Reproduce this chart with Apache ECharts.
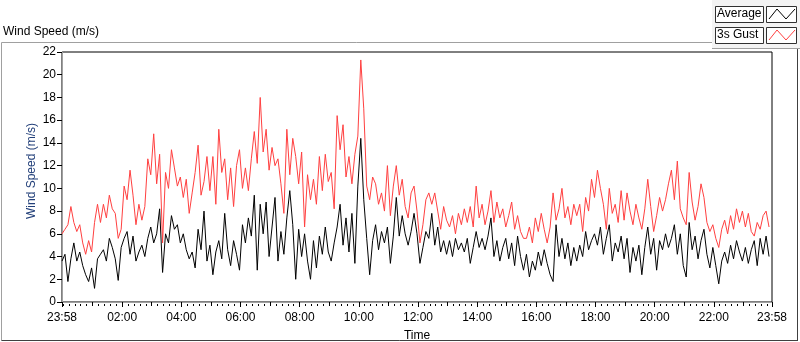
<!DOCTYPE html>
<html>

<head>
    <meta charset="utf-8">
    <title>Wind Speed</title>
    <script src="https://cdn.jsdelivr.net/npm/echarts@6/dist/echarts.min.js"></script>
</head>

<body style="margin:0;background:#fff;">
    <div id="main" style="width: 800px;height: 342px;"></div>
    <script type="text/javascript">

        // 数据: 从 23:58 开始, 每 6 分钟一个点
        var startOffset = 2;   // 23:58 -> 00:00 的分钟数
        var stepMin = 6;

        // 3s Gust (m/s)
        var gust = [
            6.0, 6.4, 6.8, 8.4, 7.0, 6.2, 6.8, 5.2, 4.2, 5.4,
            4.4, 7.0, 8.6, 7.0, 8.6, 7.4, 9.4, 8.2, 7.8, 5.6,
            6.4, 10.2, 9.0, 11.6, 9.4, 6.8, 8.6, 7.2, 8.4, 12.6,
            11.2, 14.8, 10.4, 13.0, 5.2, 11.4, 10.0, 13.4, 11.8, 10.2,
            11.0, 9.2, 10.8, 7.8, 9.6, 11.4, 13.8, 9.4, 10.6, 12.8,
            9.8, 12.8, 8.6, 15.2, 11.4, 12.6, 9.0, 11.8, 8.4, 12.0,
            13.4, 10.0, 11.8, 9.8, 12.6, 15.0, 12.2, 18.0, 13.2, 15.2,
            11.6, 13.6, 12.0, 12.6, 10.4, 7.8, 15.2, 11.2, 14.4,
            12.8, 10.4, 13.2, 6.6, 11.2, 9.0, 10.8, 8.6, 12.8, 9.8,
            13.0, 10.6, 11.4, 8.2, 16.4, 13.4, 15.6, 11.0, 12.8, 10.4,
            13.0, 14.6, 21.3, 17.0, 10.2, 9.0, 11.0, 10.4, 8.6, 9.6,
            8.0, 12.0, 7.6, 10.2, 12.0, 9.4, 10.8, 8.4, 7.4,
            9.6, 10.2, 8.0, 5.2, 6.8, 9.0, 9.6, 8.6, 9.6, 8.0,
            6.4, 8.4, 7.2, 6.6, 7.6, 6.0, 7.8, 6.8, 8.2, 7.0,
            8.4, 6.6, 10.2, 7.4, 8.6, 6.8, 8.0, 9.8, 7.0, 8.8,
            7.4, 8.2, 6.6, 7.6, 8.8, 6.4, 7.6, 6.2, 5.6,
            5.6, 6.6, 5.2, 7.4, 6.2, 7.8, 6.4, 5.2, 6.6, 9.6,
            7.2, 8.2, 10.0, 7.4, 8.4, 6.8, 8.6, 7.6, 8.6, 6.2,
            9.2, 8.0, 10.8, 9.2, 11.6, 10.0, 8.6, 6.4, 10.0, 7.8,
            8.6, 7.0, 9.8, 7.2, 9.6, 8.0, 6.8, 8.6, 7.4,
            6.4, 8.2, 10.8, 8.4, 6.2, 7.6, 9.2, 8.0, 9.0, 10.4,
            11.6, 9.0, 12.4, 8.2, 7.4, 6.8, 11.4, 8.8, 7.2, 8.4,
            10.4, 9.2, 7.0, 6.2, 6.8, 5.6, 4.8, 6.4, 7.2, 6.0,
            7.6, 6.4, 8.2, 7.0, 8.0, 6.6, 7.8, 6.2, 5.8, 7.0,
            6.4, 7.6, 8.0, 6.6
        ];

        // Average (m/s)
        var average = [
            3.6, 4.2, 1.8, 3.8, 5.2, 3.6, 4.4, 3.2, 2.4, 1.8,
            3.0, 1.2, 3.8, 4.2, 4.6, 3.6, 5.6, 4.8, 3.8, 1.9,
            4.8, 5.6, 6.2, 4.2, 5.8, 3.6, 4.4, 5.0, 4.0, 5.6,
            6.6, 5.2, 6.0, 8.2, 2.6, 6.0, 5.2, 7.6, 6.4, 6.8,
            5.2, 6.0, 4.6, 3.8, 4.4, 3.0, 6.4, 4.6, 8.0, 3.6,
            5.0, 2.4, 4.4, 5.4, 3.8, 7.8, 4.6, 3.2, 5.4, 4.2,
            2.8, 6.8, 5.2, 7.4, 5.8, 9.4, 2.8, 8.6, 6.0, 8.8,
            4.0, 6.6, 9.2, 3.6, 6.2, 4.2, 7.4, 9.8, 6.8,
            2.0, 6.4, 4.0, 6.0, 3.6, 2.0, 5.4, 3.0, 5.8, 4.2,
            6.6, 4.4, 3.6, 5.2, 6.6, 8.6, 5.0, 7.4, 4.4, 7.8,
            3.4, 10.2, 14.4, 9.0, 5.6, 2.4, 5.4, 6.8, 4.6, 6.2,
            5.2, 6.6, 3.4, 5.8, 9.2, 5.8, 7.6, 6.0, 5.0,
            6.2, 7.8, 6.0, 3.4, 4.8, 6.2, 5.6, 7.8, 5.0, 6.6,
            4.4, 5.4, 4.2, 5.4, 4.0, 5.6, 4.6, 5.2, 4.4, 5.6,
            3.4, 4.8, 6.2, 4.8, 5.6, 4.6, 5.8, 7.4, 4.0, 5.4,
            3.6, 4.8, 5.6, 3.8, 5.2, 3.2, 5.8, 4.0, 2.8,
            4.2, 2.2, 3.6, 2.8, 4.4, 3.2, 4.6, 3.4, 2.4, 1.8,
            6.8, 4.0, 5.6, 3.8, 5.2, 3.2, 4.8, 3.6, 5.0, 4.0,
            6.2, 4.6, 5.4, 6.0, 5.0, 6.6, 4.2, 5.6, 6.8, 3.6,
            5.2, 4.4, 5.8, 3.8, 5.6, 2.6, 4.8, 3.6, 5.0,
            2.4, 4.8, 6.6, 4.2, 5.6, 2.8, 5.4, 4.6, 6.0, 4.8,
            5.6, 6.8, 4.2, 6.0, 3.2, 2.2, 7.0, 4.6, 5.8, 3.8,
            5.4, 6.4, 4.2, 3.0, 4.8, 3.2, 1.6, 3.6, 4.4, 3.4,
            5.0, 3.8, 5.4, 4.4, 3.6, 4.8, 3.4, 4.6, 5.4, 3.2,
            5.6, 4.2, 5.8, 4.0
        ];

        // 时间轴刻度 (距 23:58 的分钟数)
        var labelTicks = [0, 122, 242, 362, 482, 602, 722, 842, 962, 1082, 1202, 1322, 1440];
        var hourTicks = [62, 182, 302, 422, 542, 662, 782, 902, 1022, 1142, 1262, 1382];
        var minorTicks = [];
        for (var m = startOffset; m < 1440; m += 12) {
            minorTicks.push(m);
        }

        function fmtTime(v) {
            var t = (v - startOffset + 1440) % 1440;
            var h = Math.floor(t / 60), mm = Math.round(t % 60);
            return (h < 10 ? '0' : '') + h + ':' + (mm < 10 ? '0' : '') + mm;
        }

        function toPairs(arr) {
            return arr.map(function (v, i) { return [i * stepMin, v]; });
        }

        var font = 'Liberation Sans';
        var myChart = echarts.init(document.getElementById('main'));

        var option = {
            animation: false,
            backgroundColor: '#fff',
            textStyle: { fontFamily: font },
            grid: {
                left: 62, right: 28, top: 52, bottom: 40,
                outerBoundsMode: 'none', containLabel: false,
                show: true, borderColor: '#000', borderWidth: 1, backgroundColor: '#fff'
            },
            xAxis: [
                {
                    type: 'value', min: 0, max: 1440, position: 'bottom', offset: 2,
                    name: 'Time', nameLocation: 'middle', nameGap: 26, nameMoveOverlap: false,
                    nameTextStyle: { color: '#000', fontSize: 12, fontFamily: font },
                    axisLine: { show: false },
                    axisTick: { show: true, length: 5, customValues: labelTicks, lineStyle: { color: '#000' } },
                    axisLabel: {
                        customValues: labelTicks, formatter: fmtTime, color: '#000',
                        fontSize: 12, margin: 8, showMinLabel: true, showMaxLabel: true
                    },
                    splitLine: { show: false }
                },
                {
                    type: 'value', min: 0, max: 1440, position: 'bottom', offset: 2,
                    axisLine: { show: false },
                    axisTick: { show: true, length: 4, customValues: hourTicks, lineStyle: { color: '#000' } },
                    axisLabel: { show: false },
                    splitLine: { show: false }
                },
                {
                    type: 'value', min: 0, max: 1440, position: 'bottom', offset: 2,
                    axisLine: { show: false },
                    axisTick: { show: true, length: 2, customValues: minorTicks, lineStyle: { color: '#000' } },
                    axisLabel: { show: false },
                    splitLine: { show: false }
                },
                {
                    // 底边灰线
                    type: 'value', min: 0, max: 1440, position: 'bottom',
                    axisLine: { show: true, lineStyle: { color: '#a0a0a0' } },
                    axisTick: { show: false }, axisLabel: { show: false }, splitLine: { show: false }
                }
            ],
            yAxis: [
                {
                    type: 'value', min: 0, max: 22, interval: 2, position: 'left', offset: 2,
                    name: 'Wind Speed (m/s)', nameLocation: 'middle', nameGap: 22, nameMoveOverlap: false,
                    nameTextStyle: { color: '#23407a', fontSize: 12, fontFamily: font, padding: [0, 0, 0, 12] },
                    axisLine: { show: false },
                    axisTick: { show: true, length: 5, lineStyle: { color: '#000' } },
                    axisLabel: { color: '#000', fontSize: 12, margin: 4 },
                    splitLine: { show: false }
                },
                {
                    // 右边灰线
                    type: 'value', min: 0, max: 22, position: 'right',
                    axisLine: { show: true, lineStyle: { color: '#a0a0a0' } },
                    axisTick: { show: false }, axisLabel: { show: false }, splitLine: { show: false }
                }
            ],
            series: [
                {
                    name: '3s Gust', type: 'line', showSymbol: false,
                    data: toPairs(gust),
                    lineStyle: { color: '#ff4040', width: 1 }, itemStyle: { color: '#ff4040' }
                },
                {
                    name: 'Average', type: 'line', showSymbol: false,
                    data: toPairs(average),
                    lineStyle: { color: '#000', width: 1 }, itemStyle: { color: '#000' }
                }
            ],
            graphic: [
                // 外框
                { type: 'line', shape: { x1: 1.5, y1: 42.5, x2: 712, y2: 42.5 }, style: { stroke: '#a0a0a0' } },
                { type: 'line', shape: { x1: 1.5, y1: 42.5, x2: 1.5, y2: 340.5 }, style: { stroke: '#a0a0a0' } },
                { type: 'line', shape: { x1: 1.5, y1: 340.5, x2: 798, y2: 340.5 }, style: { stroke: '#404040' } },
                { type: 'line', shape: { x1: 797.5, y1: 48, x2: 797.5, y2: 340.5 }, style: { stroke: '#404040' } },
                // 标题
                {
                    type: 'text', left: 3, top: 26,
                    style: { text: 'Wind Speed (m/s)', fill: '#000', font: '12px "Liberation Sans"' }
                },
                // 图例面板
                { type: 'rect', shape: { x: 712, y: 0, width: 88, height: 48 }, style: { fill: '#f3f3f3' } },
                { type: 'line', shape: { x1: 712, y1: 48.5, x2: 800, y2: 48.5 }, style: { stroke: '#a0a0a0' } },
                { type: 'rect', shape: { x: 715.5, y: 6.5, width: 48, height: 16 }, style: { fill: '#fff', stroke: '#303030' } },
                { type: 'text', x: 717, y: 8, style: { text: 'Average', fill: '#000', font: '12px "Liberation Sans"' } },
                { type: 'rect', shape: { x: 766.5, y: 6.5, width: 30, height: 16 }, style: { fill: '#fff', stroke: '#303030' } },
                { type: 'polyline', shape: { points: [[769, 19], [777, 9], [786, 19], [795, 9]] }, style: { stroke: '#000', fill: null } },
                { type: 'rect', shape: { x: 715.5, y: 27.5, width: 48, height: 16 }, style: { fill: '#fff', stroke: '#303030' } },
                { type: 'text', x: 717, y: 29, style: { text: '3s Gust', fill: '#000', font: '12px "Liberation Sans"' } },
                { type: 'rect', shape: { x: 766.5, y: 27.5, width: 30, height: 16 }, style: { fill: '#fff', stroke: '#303030' } },
                { type: 'polyline', shape: { points: [[769, 40], [777, 30], [786, 40], [795, 30]] }, style: { stroke: '#ff4040', fill: null } }
            ]
        };

        myChart.setOption(option);
        window.onresize = myChart.resize;
    </script>
</body>

</html>
